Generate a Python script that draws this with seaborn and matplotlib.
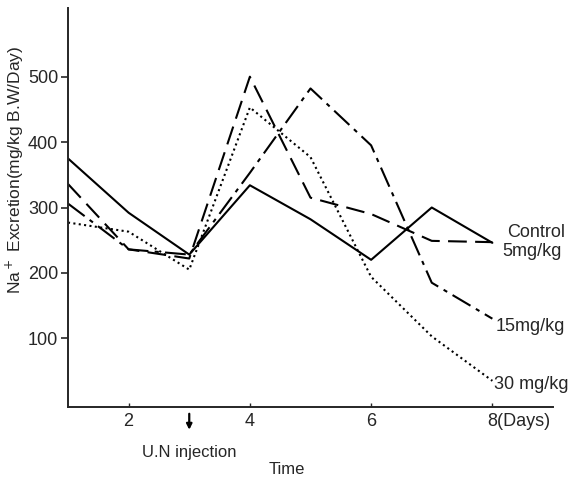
import numpy as np
import pandas as pd
import matplotlib
matplotlib.use('Agg')
import matplotlib.pyplot as plt
from matplotlib.transforms import offset_copy
import seaborn as sns

# values (mg/kg B.W/Day)
days = [1, 2, 3, 4, 5, 6, 7, 8]
control = [375, 292, 228, 334, 282, 220, 300, 246]
dose_5 = [336, 236, 222, 500, 315, 290, 249, 247]
dose_15 = [306, 236, 228, 353, 482, 395, 185, 130]
dose_30 = [277, 263, 205, 453, 377, 194, 103, 35]

groups = ['Control', '5mg/kg', '15mg/kg', '30 mg/kg']
series = [control, dose_5, dose_15, dose_30]

x_ticks = [2, 4, 6, 8]
x_tick_labels = ['2', '4', '6', '']  # the 8 is drawn together with "(Days)"
y_ticks = [100, 200, 300, 400, 500]
injection_day = 3

df = pd.DataFrame({
    'day': days * len(groups),
    'value': [v for s in series for v in s],
    'group': [g for g in groups for _ in days],
})

sns.set_style('ticks')
plt.rcParams['font.family'] = ['Liberation Sans', 'DejaVu Sans']

fig = plt.figure(figsize=(5.77, 4.8), dpi=100)
ax = fig.add_axes([68 / 577, 73 / 480, 485 / 577, 399 / 480])

dashes = {
    'Control': '',
    '5mg/kg': (9, 4),
    '15mg/kg': (10, 3, 2, 3),
    '30 mg/kg': (1, 1.6),
}
sns.lineplot(data=df, x='day', y='value', style='group', dashes=dashes,
             color='black', linewidth=1.5, legend=False, ax=ax)

ax.set_xlim(1, 9)
ax.set_ylim(-5, 605)
ax.set_xticks(x_ticks)
ax.set_xticklabels(x_tick_labels, fontsize=13)
ax.set_yticks(y_ticks)
ax.set_yticklabels([str(t) for t in y_ticks], fontsize=13)
ax.tick_params(axis='y', direction='out', length=5, width=1.2, pad=2)
ax.tick_params(axis='x', direction='in', length=3, width=1, pad=4)
for side in ['top', 'right']:
    ax.spines[side].set_visible(False)
for side in ['left', 'bottom']:
    ax.spines[side].set_linewidth(1.4)
ax.set_xlabel('')
ax.set_ylabel('')

# last tick label with the unit, "8" centred on its tick
days_tf = offset_copy(ax.get_xaxis_transform(), fig=fig, x=-3.6, y=-4,
                      units='points')
ax.text(x_ticks[-1], 0, '8(Days)', transform=days_tf,
        fontsize=13, ha='left', va='top')

# end-of-line labels
ax.text(8.24, 262, 'Control', fontsize=13, ha='left', va='center')
ax.text(8.16, 233, '5mg/kg', fontsize=13, ha='left', va='center')
ax.text(8.06, 118, '15mg/kg', fontsize=13, ha='left', va='center')
ax.text(8.02, 29, '30 mg/kg', fontsize=13, ha='left', va='center')

# injection arrow
ax.annotate('', xy=(injection_day, -0.064), xytext=(injection_day, -0.01),
            xycoords=ax.get_xaxis_transform(),
            textcoords=ax.get_xaxis_transform(),
            arrowprops=dict(arrowstyle='-|>', color='black', lw=1.6,
                            mutation_scale=8),
            annotation_clip=False)
fig.text(142 / 577, 1 - 452 / 480, 'U.N injection', fontsize=12,
         ha='left', va='center')
fig.text(287 / 577, 1 - 469 / 480, 'Time', fontsize=12,
         ha='center', va='center')

fig.text(15 / 577, 1 - 170 / 480, 'Na$^+$ Excretion(mg/kg B.W/Day)',
         fontsize=12.5, rotation=90, ha='center', va='center')

fig.savefig('out.png', dpi=100)
